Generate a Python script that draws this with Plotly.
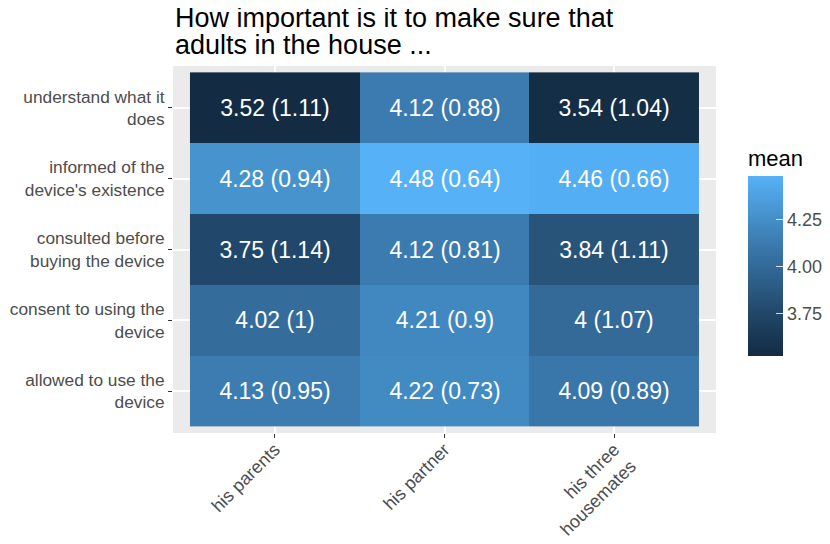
import plotly.graph_objects as go

# data
groups = ["his parents", "his partner", "his three<br>housemates"]
items = [
    "understand what it<br>does",
    "informed of the<br>device's existence",
    "consulted before<br>buying the device",
    "consent to using the<br>device",
    "allowed to use the<br>device",
]
mean_parents = [3.52, 4.28, 3.75, 4.02, 4.13]
mean_partner = [4.12, 4.48, 4.12, 4.21, 4.22]
mean_housemates = [3.54, 4.46, 3.84, 4.00, 4.09]
sd_parents = [1.11, 0.94, 1.14, 1.00, 0.95]
sd_partner = [0.88, 0.64, 0.81, 0.90, 0.73]
sd_housemates = [1.04, 0.66, 1.11, 1.07, 0.89]
title_lines = ["How important is it to make sure that", "adults in the house ..."]


# ggplot-like gradient (#132B43 -> #56B1F7) interpolated in Lab
def hex_to_lab(h):
    rgb = [int(h[i:i + 2], 16) / 255 for i in (1, 3, 5)]
    r, g, b = [c / 12.92 if c <= 0.04045 else ((c + 0.055) / 1.055) ** 2.4 for c in rgb]
    x = (0.4124 * r + 0.3576 * g + 0.1805 * b) / 0.95047
    y = 0.2126 * r + 0.7152 * g + 0.0722 * b
    z = (0.0193 * r + 0.1192 * g + 0.9505 * b) / 1.08883
    f = lambda t: t ** (1 / 3) if t > 0.008856 else 7.787 * t + 16 / 116
    return 116 * f(y) - 16, 500 * (f(x) - f(y)), 200 * (f(y) - f(z))


def lab_to_hex(L, a, b):
    fy = (L + 16) / 116
    fx, fz = fy + a / 500, fy - b / 200
    finv = lambda t: t ** 3 if t ** 3 > 0.008856 else (t - 16 / 116) / 7.787
    x, y, z = 0.95047 * finv(fx), finv(fy), 1.08883 * finv(fz)
    lin = [3.2406 * x - 1.5372 * y - 0.4986 * z,
           -0.9689 * x + 1.8758 * y + 0.0415 * z,
           0.0557 * x - 0.2040 * y + 1.0570 * z]
    out = []
    for c in lin:
        c = 12.92 * c if c <= 0.0031308 else 1.055 * c ** (1 / 2.4) - 0.055
        out.append(max(0, min(255, round(c * 255))))
    return "#%02x%02x%02x" % tuple(out)


lo, hi = hex_to_lab("#132B43"), hex_to_lab("#56B1F7")
n = 12
scale = []
for i in range(n + 1):
    t = i / n
    scale.append([t, lab_to_hex(*[lo[k] + (hi[k] - lo[k]) * t for k in range(3)])])

z = [list(r) for r in zip(mean_parents, mean_partner, mean_housemates)]
sds = [list(r) for r in zip(sd_parents, sd_partner, sd_housemates)]
text = [[f"{m:g} ({s:g})" for m, s in zip(zr, sr)] for zr, sr in zip(z, sds)]

fig = go.Figure(
    go.Heatmap(
        x=groups,
        y=items,
        z=z,
        text=text,
        texttemplate="%{text}",
        textfont=dict(size=23, color="white"),
        colorscale=scale,
        colorbar=dict(
            title=dict(text="mean", side="top", font=dict(size=22, color="black")),
            tickvals=[3.75, 4.0, 4.25],
            tickformat=".2f",
            tickprefix="\u00a0\u00a0",
            ticks="inside",
            ticklen=7,
            tickcolor="rgba(255,255,255,0.8)",
            tickfont=dict(size=18, color="#4D4D4D"),
            outlinewidth=0,
            thickness=35,
            thicknessmode="pixels",
            len=210,
            lenmode="pixels",
            x=1.059,
            xanchor="left",
            xpad=0,
            y=0.495,
            yanchor="middle",
            ypad=0,
        ),
        hoverinfo="skip",
    )
)

# two-line title placed as annotations (tighter line spacing than plotly's title)
for line, ypx in zip(title_lines, [18, 45]):
    fig.add_annotation(
        text=line,
        xref="paper",
        yref="paper",
        x=0,
        y=1 + (66 - ypx) / 367,
        xanchor="left",
        yanchor="middle",
        showarrow=False,
        font=dict(size=27, color="black"),
    )

# the page body has an 8px margin, so the figure is 8px smaller and shifted
fig.update_layout(
    width=822,
    height=536,
    margin=dict(l=165, r=114, t=58, b=111, autoexpand=False),
    paper_bgcolor="white",
    plot_bgcolor="#EBEBEB",
    font=dict(family="Liberation Sans, Arial, sans-serif"),
    xaxis=dict(
        range=[-0.6, 2.6],
        tickangle=-45,
        ticks="outside",
        ticklen=4,
        tickcolor="#333333",
        tickfont=dict(size=18, color="#4D4D4D"),
        ticklabelstandoff=-6,
        showgrid=True,
        gridcolor="white",
        gridwidth=2,
        zeroline=False,
        showline=False,
        automargin=False,
    ),
    yaxis=dict(
        range=[4.59, -0.59],
        ticks="outside",
        ticklen=4,
        tickcolor="#333333",
        tickfont=dict(size=17.3, color="#4D4D4D"),
        showgrid=True,
        gridcolor="white",
        gridwidth=2,
        zeroline=False,
        showline=False,
        automargin=False,
    ),
)

fig.write_html("out.html")
